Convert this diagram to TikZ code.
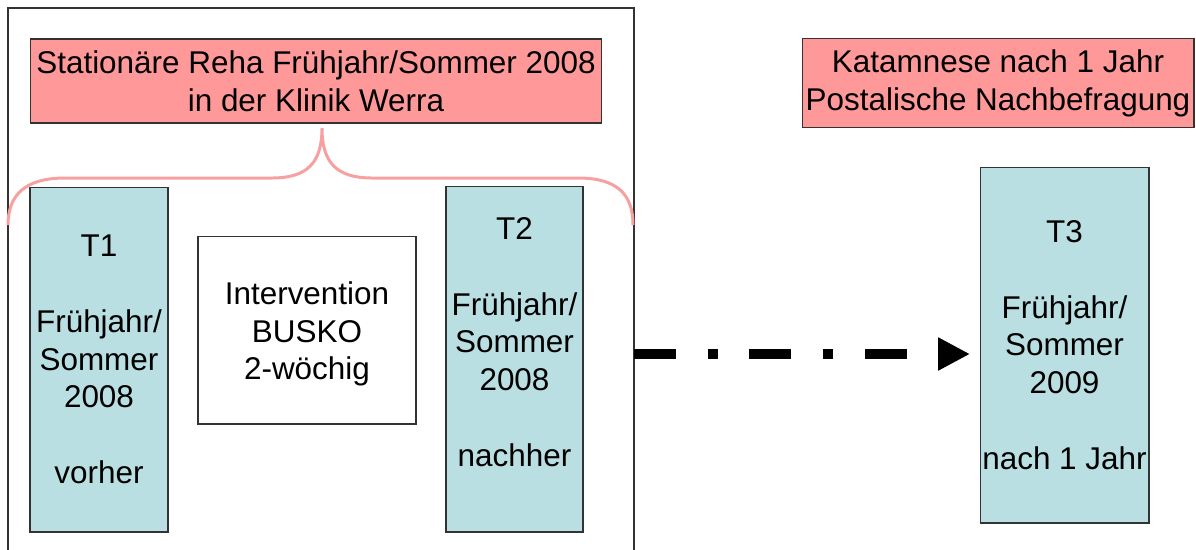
\documentclass[tikz,border=0pt]{standalone}
\usepackage{fontspec}
\setmainfont{Liberation Sans}
\usetikzlibrary{arrows.meta}
\definecolor{pinkfill}{HTML}{FF9999}
\definecolor{tealfill}{HTML}{B9DFE2}
\definecolor{bracecol}{HTML}{F7A0A0}
\begin{document}
\begin{tikzpicture}[x=0.02cm,y=-0.02cm,
  every node/.style={font=\fontsize{17.9pt}{21.5pt}\selectfont, align=center, inner sep=0pt},
  boxline/.style={draw=black!80, line width=0.6pt},
  pinkbox/.style={boxline, fill=pinkfill, rectangle},
  tealbox/.style={boxline, fill=tealfill, rectangle},
  whitebox/.style={boxline, fill=white, rectangle},
  bracestyle/.style={draw=bracecol, line width=1.7pt},
  dasharrow/.style={line width=5.67pt, dash pattern=on 23.8pt off 18.1pt on 5.67pt off 18.1pt,
    -{Triangle[length=18.1pt,width=17.6pt]}}]
\useasboundingbox (0,0) rectangle (1196,549);
\fill[white] (0,0) rectangle (1196,549);
% outer frame (open at the bottom)
\draw[boxline] (8,552) -- (8,8) -- (634,8) -- (634,552);
% header boxes
\node[pinkbox, minimum width=11.44cm, minimum height=1.68cm] (head1) at (316,81)
  {Stationäre Reha Frühjahr/Sommer 2008\\in der Klinik Werra};
\node[pinkbox, minimum width=7.84cm, minimum height=1.78cm] (head2) at (998,83)
  {Katamnese nach 1 Jahr\\Postalische Nachbefragung};
% brace
\draw[bracestyle] (8,225) .. controls (8,195) and (25,178) .. (65,178) -- (272,178)
  .. controls (307,178) and (322,163) .. (322,128)
  .. controls (322,163) and (337,178) .. (372,178) -- (578,178)
  .. controls (618,178) and (633,195) .. (633,225);
% time point boxes
\node[tealbox, minimum width=2.76cm, minimum height=6.9cm] (t1) at (99,359.5)
  {T1\\[21.5pt]Frühjahr/\\Sommer\\2008\\[21.5pt]vorher};
\node[whitebox, minimum width=4.36cm, minimum height=3.76cm] (interv) at (307,330) {};
\node (intervtxt) at (307,334) {Intervention\\BUSKO\\2-wöchig};
\node[tealbox, minimum width=2.74cm, minimum height=6.92cm] (t2) at (514.5,359) {};
\node (t2txt) at (514.5,342) {T2\\[21.5pt]Frühjahr/\\Sommer\\2008\\[21.5pt]nachher};
\node[tealbox, minimum width=3.38cm, minimum height=7.12cm] (t3) at (1064.5,345)
  {T3\\[21.5pt]Frühjahr/\\Sommer\\2009\\[21.5pt]nach 1 Jahr};
% arrow
\coordinate (a0) at (634,354);
\coordinate (a1) at (970,354);
\draw[dasharrow] (a0) -- (a1);
\end{tikzpicture}
\end{document}
